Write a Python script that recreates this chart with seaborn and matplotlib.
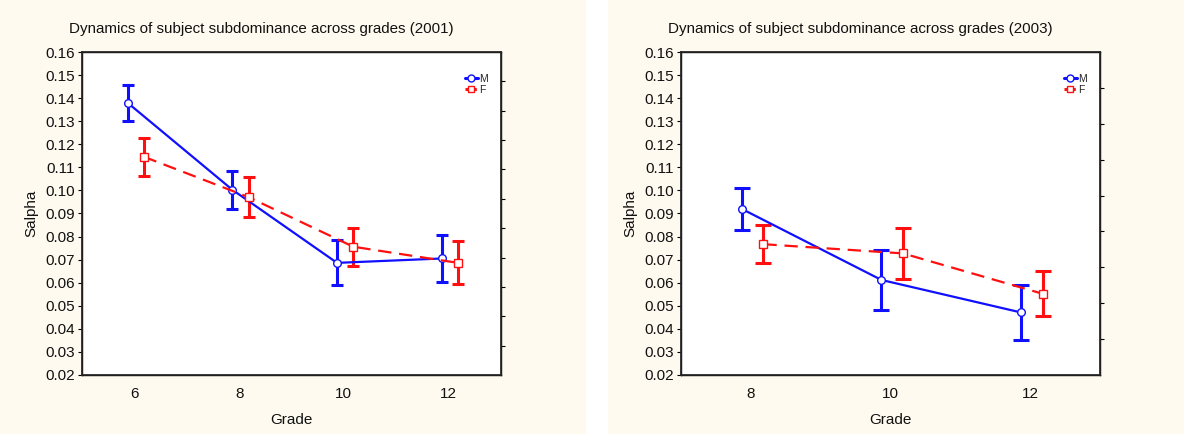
import numpy as np
import pandas as pd
import matplotlib
matplotlib.use("Agg")
import matplotlib.pyplot as plt
import matplotlib.patches as mpatches
from matplotlib.lines import Line2D
import seaborn as sns

# ---------------- data ----------------
grades_2001 = [6, 8, 10, 12]
m_2001 = [0.1380, 0.1003, 0.0686, 0.0705]
m_err_2001 = [0.0077, 0.0083, 0.0098, 0.0103]
f_2001 = [0.1146, 0.0971, 0.0756, 0.0686]
f_err_2001 = [0.0082, 0.0088, 0.0082, 0.0093]

grades_2003 = [8, 10, 12]
m_2003 = [0.0920, 0.0612, 0.0471]
m_err_2003 = [0.0092, 0.0129, 0.0118]
f_2003 = [0.0767, 0.0727, 0.0552]
f_err_2003 = [0.0083, 0.0112, 0.0097]

titles = ["Dynamics of subject subdominance across grades (2001)",
          "Dynamics of subject subdominance across grades (2003)"]
yticks = [0.02, 0.03, 0.04, 0.05, 0.06, 0.07, 0.08, 0.09, 0.10,
          0.11, 0.12, 0.13, 0.14, 0.15, 0.16]

sns.set_theme(style="white")
plt.rcParams['font.family'] = ['Liberation Sans', 'DejaVu Sans']

W, H = 1184, 434
fig = plt.figure(figsize=(W / 100, H / 100), dpi=100, facecolor="white")

cream = "#fefaef"
fig.patches.append(mpatches.Rectangle((0, 0), 586 / W, 1, transform=fig.transFigure,
                                      facecolor=cream, edgecolor="none", zorder=-10))
fig.patches.append(mpatches.Rectangle((608 / W, 0), 1 - 608 / W, 1, transform=fig.transFigure,
                                      facecolor=cream, edgecolor="none", zorder=-10))

BLUE = "#1010ff"
RED = "#ff1010"
OFF_M, OFF_F = -0.13, 0.18

panels = [
    dict(left=82, grades=grades_2001, m=m_2001, me=m_err_2001, f=f_2001, fe=f_err_2001,
         xlim=(5, 13), cap=4.3, title_x=261, n_right=11),
    dict(left=681, grades=grades_2003, m=m_2003, me=m_err_2003, f=f_2003, fe=f_err_2003,
         xlim=(7, 13), cap=6.0, title_x=860, n_right=9),
]

for i, p in enumerate(panels):
    ax = fig.add_axes([p["left"] / W, 1 - 375 / H, 419 / W, 323 / H])
    ax.set_facecolor("white")
    g = np.array(p["grades"], dtype=float)
    df = pd.DataFrame({
        "Grade": np.concatenate([g + OFF_M, g + OFF_F]),
        "Salpha": np.concatenate([p["m"], p["f"]]),
        "Sex": ["M"] * len(g) + ["F"] * len(g),
    })
    # error bars
    ax.errorbar(g + OFF_M, p["m"], yerr=p["me"], fmt="none", ecolor=BLUE,
                elinewidth=2.2, capsize=p["cap"], capthick=2.2, zorder=2)
    ax.errorbar(g + OFF_F, p["f"], yerr=p["fe"], fmt="none", ecolor=RED,
                elinewidth=2.2, capsize=p["cap"], capthick=2.2, zorder=2)
    sns.lineplot(data=df, x="Grade", y="Salpha", hue="Sex", style="Sex",
                 palette={"M": BLUE, "F": RED},
                 dashes={"M": "", "F": (6, 3.5)},
                 markers={"M": "o", "F": "s"},
                 markersize=5.5, markerfacecolor="white", markeredgewidth=1.0,
                 linewidth=1.6, ax=ax, legend=False, zorder=3)
    for ln, col in zip(ax.get_lines()[-2:], [BLUE, RED]):
        ln.set_markeredgecolor(col)

    ax.set_xlim(*p["xlim"])
    ax.set_ylim(0.02, 0.16)
    ax.set_xticks(p["grades"])
    ax.set_xticklabels([str(v) for v in p["grades"]])
    ax.set_yticks(yticks)
    ax.set_yticklabels([f"{v:.2f}" for v in yticks])
    ax.tick_params(axis="y", direction="out", length=3, width=0.8, color="black",
                   labelsize=11, pad=2, left=True, labelcolor="#111111")
    ax.tick_params(axis="x", direction="out", length=0, labelsize=11, pad=9, bottom=True,
                   labelcolor="#111111")
    for s in ax.spines.values():
        s.set_color("black")
        s.set_linewidth(1.0)
    ax.set_xlabel("Grade", fontsize=11, labelpad=8, color="#111111")
    ax.set_ylabel("Salpha", fontsize=11, labelpad=5, color="#111111")

    # right-side small ticks
    ax2 = ax.twinx()
    ax2.set_ylim(0, 1)
    ax2.set_yticks(np.arange(1, p["n_right"]) / p["n_right"])
    ax2.set_yticklabels([])
    ax2.tick_params(axis="y", direction="out", length=3, width=0.8, color="black", right=True)
    ax2.grid(False)

    handles = [
        Line2D([0], [0], color=BLUE, lw=2.2, marker="o", markerfacecolor="white",
               markeredgecolor=BLUE, markersize=5),
        Line2D([0], [0], color=RED, lw=2.2, ls="--", marker="s", markerfacecolor="white",
               markeredgecolor=RED, markersize=5),
    ]
    ax.legend(handles, ["M", "F"], loc="upper right", fontsize=7.5, frameon=False,
              handlelength=1.2, handletextpad=0.1, labelspacing=0.1,
              borderaxespad=0.3, bbox_to_anchor=(0.985, 0.955))

    fig.text(p["title_x"] / W, 1 - 29 / H, titles[i], ha="center", va="center",
             fontsize=10.9, color="#111111")

fig.savefig("out.png", dpi=100, facecolor="white")
